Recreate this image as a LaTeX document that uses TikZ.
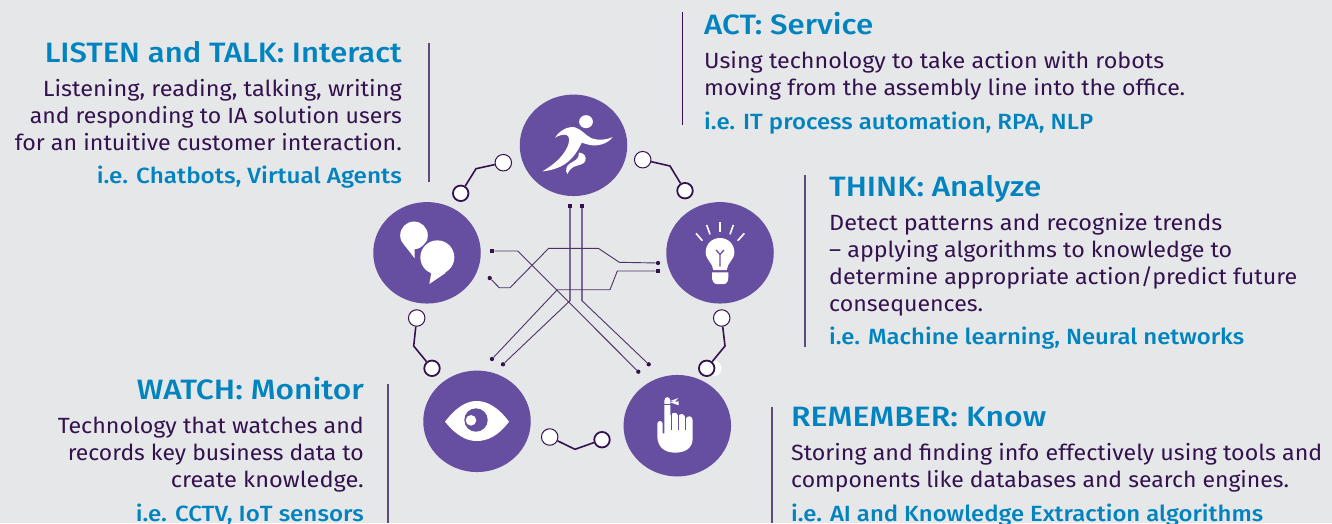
\documentclass[tikz,border=0pt]{standalone}
\usepackage{graphicx}
\usepackage{fontspec}
\usetikzlibrary{shapes.geometric}
\setmainfont{Fira Sans}
\newfontfamily\medfont{Fira Sans Medium}
\definecolor{bgc}{HTML}{E6E7E8}
\definecolor{purp}{HTML}{664EA0}
\definecolor{darkp}{HTML}{33124F}
\definecolor{midp}{HTML}{5F4A80}
\definecolor{bluec}{HTML}{0083BE}
\newcommand{\fitw}[2]{\resizebox{#1pt}{\height}{#2}}
\tikzset{
  titleR/.style={anchor=base east,inner sep=0pt,text=bluec,font=\medfont\fontsize{28}{30}\selectfont},
  titleL/.style={anchor=base west,inner sep=0pt,text=bluec,font=\medfont\fontsize{28}{30}\selectfont},
  bodyR/.style={anchor=base east,inner sep=0pt,text=darkp,font=\fontsize{22}{24}\selectfont},
  bodyL/.style={anchor=base west,inner sep=0pt,text=darkp,font=\fontsize{22}{24}\selectfont},
  exR/.style={anchor=base east,inner sep=0pt,text=bluec,font=\medfont\fontsize{22}{24}\selectfont},
  exL/.style={anchor=base west,inner sep=0pt,text=bluec,font=\medfont\fontsize{22}{24}\selectfont},
  disc/.style={ellipse,fill=purp,minimum width=107.5pt,minimum height=101.5pt,inner sep=0pt},
  knobthin/.style={circle,draw=darkp,fill=white,line width=1pt,minimum size=16.5pt,inner sep=0pt},
  knobthick/.style={circle,draw=darkp,fill=white,line width=1.8pt,minimum size=15.5pt,inner sep=0pt},
  linkline/.style={draw=darkp,line width=1.6pt},
  rulep/.style={draw=midp,line width=1.2pt},
  rulek/.style={draw=darkp,line width=1pt},
  trace/.style={draw=darkp!85!bgc,line width=0.9pt,line join=round},
  vtrace/.style={draw=midp!80!bgc,line width=1.5pt,line join=round},
  sqt/.style={rectangle,fill=darkp,minimum size=4.3pt,inner sep=0pt},
  dott/.style={circle,fill=darkp,minimum size=4.3pt,inner sep=0pt},
  ray/.style={draw=white,line width=1.6pt},
}
\begin{document}
\begin{tikzpicture}[x=1pt,y=-1pt]
\useasboundingbox (0,0) rectangle (1332,523);
\fill[bgc] (0,0) rectangle (1332,523);

% rules
\coordinate (r1a) at (429,43); \coordinate (r1b) at (429,182);
\coordinate (r2a) at (682,12); \coordinate (r2b) at (682,125);
\coordinate (r3a) at (805,175); \coordinate (r3b) at (805,347);
\coordinate (r4a) at (388,384); \coordinate (r4b) at (388,523);
\coordinate (r5a) at (772,407); \coordinate (r5b) at (772,523);
\draw[rulep] (r1a) -- (r1b);
\draw[rulek] (r2a) -- (r2b);
\draw[rulep] (r3a) -- (r3b);
\draw[rulep] (r4a) -- (r4b);
\draw[rulep] (r5a) -- (r5b);

% discs
\node[disc] (dtop) at (573.5,145.3) {};
\node[disc] (dleft) at (427,252.8) {};
\node[disc] (dright) at (720,252.8) {};
\node[disc] (deye) at (477,421.3) {};
\node[disc] (dhand) at (677.3,425.7) {};

% connectors between discs
\fill[white] (713.5,368.3) circle (8pt);
\node[knobthin] (k1a) at (503.3,162.7) {};
\node[knobthick] (k1b) at (460.7,193.3) {};
\coordinate (k1m) at (476,168.7);
\draw[linkline] (k1a) -- (k1m) -- (k1b);
\node[knobthin] (k2a) at (642.7,159.7) {};
\node[knobthick] (k2b) at (685,190.7) {};
\coordinate (k2m) at (670,166);
\draw[linkline] (k2a) -- (k2m) -- (k2b);
\node[knobthin] (k3a) at (721.7,318) {};
\node[knobthick] (k3b) at (706.7,368.3) {};
\coordinate (k3m) at (725,346);
\draw[linkline] (k3a) -- (k3m) -- (k3b);
\node[knobthin] (k4a) at (416.7,318) {};
\node[knobthick] (k4b) at (432,368.3) {};
\coordinate (k4m) at (413.7,346);
\draw[linkline] (k4a) -- (k4m) -- (k4b);
\node[knobthin] (k5a) at (549.7,437) {};
\node[knobthick] (k5b) at (602,439.7) {};
\coordinate (k5m) at (575,449.3);
\draw[linkline] (k5a) -- (k5m) -- (k5b);

% circuit traces
\node[sqt] (ta) at (570,206) {};
\node[sqt] (tb) at (582,206) {};
\node[sqt] (tc) at (492,251) {};
\node[dott] (td) at (492,359) {};
\node[dott] (te) at (489.7,278) {};
\node[dott] (tf) at (503,364.3) {};
\node[dott] (tg) at (648.7,364.3) {};
\node[dott] (th) at (638.3,371.7) {};
\node[sqt] (ti) at (658,271) {};
\node[dott] (tj) at (658,263) {};
\coordinate (pa) at (570,300.7);
\coordinate (pb) at (582,300.7);
\coordinate (pc) at (517.7,251);
\coordinate (pd1) at (557.3,289.7);
\coordinate (pd2) at (610,289.7);
\coordinate (pd3) at (617.3,271);
\coordinate (pe1) at (499.3,287.7);
\coordinate (pe2) at (510,287.7);
\coordinate (pe3) at (548.7,248.3);
\coordinate (pe4) at (598.3,248.3);
\coordinate (pe5) at (619.3,262.3);
\draw[vtrace] (ta) -- (pa);
\draw[vtrace] (tb) -- (pb);
\draw[trace] (pa) -- (tf);
\draw[trace] (pb) -- (tg);
\draw[trace] (tc) -- (pc) -- (th);
\draw[trace] (td) -- (pd1) -- (pd2) -- (pd3) -- (ti);
\draw[trace] (te) -- (pe1) -- (pe2) -- (pe3) -- (pe4) -- (pe5) -- (tj);

% runner
\begin{scope}[shift={(510,90)},x=0.33333pt,y=-0.33333pt]
\fill[white] (228,95) ellipse (6.9pt and 6.5pt);
\fill[white] (135,143) .. controls (150,120) and (175,108) .. (195,112) .. controls (215,118) and (225,135) .. (245,145) .. controls (265,152) and (290,150) .. (308,141) .. controls (295,160) and (265,170) .. (240,165) .. controls (228,162) and (220,160) .. (215,158) .. controls (205,180) and (190,205) .. (165,222) .. controls (145,235) and (120,242) .. (97,244) .. controls (125,228) and (155,205) .. (170,175) .. controls (180,155) and (180,140) .. (170,135) .. controls (160,132) and (147,136) .. (135,143) -- cycle;
\fill[white] (207,188) .. controls (222,188) and (230,200) .. (226,213) .. controls (222,225) and (200,225) .. (188,232) .. controls (180,238) and (175,245) .. (172,252) .. controls (165,242) and (168,228) .. (180,220) .. controls (192,213) and (208,208) .. (207,188) -- cycle;
\end{scope}

% speech bubbles
\begin{scope}[shift={(370,200)},x=0.33333pt,y=-0.33333pt]
\fill[white] (132,106) circle (13.8pt);
\fill[white] (103,135) -- (134,175) -- (134,140) -- cycle;
\fill[purp] (202,172) circle (18.6pt);
\fill[white] (202,172) circle (17pt);
\fill[white] (185,212) -- (178,252) -- (228,218) -- cycle;
\end{scope}

% bulb
\begin{scope}[shift={(660,195)},x=0.33333pt,y=-0.33333pt]
\draw[ray] (108,115) -- (127,137);
\draw[ray] (140,90) -- (150,118);
\draw[ray] (180,82) -- (180,112);
\draw[ray] (220,90) -- (210,118);
\draw[ray] (253,115) -- (233,137);
\fill[white] (180,129) .. controls (155,129) and (137,148) .. (137,172) .. controls (137,195) and (158,203) .. (160,225) -- (200,225) .. controls (202,203) and (223,195) .. (223,172) .. controls (223,148) and (205,129) .. (180,129) -- cycle;
\draw[purp,line width=1.3pt] (180,215) -- (180,178) -- (168,165);
\draw[purp,line width=1.3pt] (180,178) -- (192,165);
\fill[white] (156,232) -- (205,232) -- (205,245) .. controls (205,255) and (202,267) .. (192,267) -- (170,267) .. controls (160,267) and (156,255) .. (156,245) -- cycle;
\end{scope}

% eye
\begin{scope}[shift={(400,290)},x=0.33333pt,y=-0.33333pt]
\fill[white] (135,395) .. controls (170,350) and (200,333) .. (230,333) .. controls (262,333) and (295,352) .. (327,395) .. controls (295,438) and (262,453) .. (230,453) .. controls (200,453) and (170,438) .. (135,395) -- cycle;
\fill[purp] (228,390) circle (11.7pt);
\fill[white] (213,391) circle (5.3pt);
\end{scope}

% hand
\begin{scope}[shift={(620,370)},x=0.33333pt,y=-0.33333pt]
\fill[white] (133,92) .. controls (133,78) and (151,78) .. (151,92) -- (151,135) -- (154,135) .. controls (156,126) and (171,126) .. (173,135) -- (176,138) .. controls (178,130) and (192,130) .. (195,140) -- (198,145) .. controls (202,136) and (217,136) .. (218,150) -- (218,205) .. controls (218,235) and (195,248) .. (165,248) .. controls (135,248) and (113,232) .. (112,200) -- (112,160) .. controls (115,150) and (126,152) .. (128,160) -- (128,190) -- (133,190) -- cycle;
\draw[purp,line width=0.9pt] (130,103) -- (153,103);
\draw[purp,line width=0.7pt] (153,130) -- (153,180);
\draw[purp,line width=0.7pt] (174.5,135) -- (174.5,180);
\draw[purp,line width=0.7pt] (196.5,140) -- (196.5,180);
\fill[white] (151,93) -- (175,84) -- (164,96) -- cycle;
\fill[white] (151,97) -- (176,94) -- (176,106) -- cycle;
\end{scope}

% LISTEN
\node[titleR] (l0) at (402,62) {\fitw{357}{LISTEN and TALK: Interact}};
\node[bodyR] (l1) at (402,96) {\fitw{359}{Listening, reading, talking, writing}};
\node[bodyR] (l2) at (402,123) {\fitw{372}{and responding to IA solution users}};
\node[bodyR] (l3) at (402,150) {\fitw{387}{for an intuitive customer interaction.}};
\node[exR] (l4) at (402,183) {\fitw{305}{i.e. Chatbots, Virtual Agents}};
% ACT
\node[titleL] (a0) at (704,34) {\fitw{169}{ACT: Service}};
\node[bodyL] (a1) at (704,68) {\fitw{460}{Using technology to take action with robots}};
\node[bodyL] (a2) at (704,95) {\fitw{481}{moving from the assembly line into the office.}};
\node[exL] (a3) at (704,129) {\fitw{389}{i.e. IT process automation, RPA, NLP}};
% THINK
\node[titleL] (t0) at (829,196) {\fitw{212}{THINK: Analyze}};
\node[bodyL] (t1) at (829,230) {\fitw{393}{Detect patterns and recognize trends}};
\node[bodyL] (t2) at (829,257) {\fitw{403}{– applying algorithms to knowledge to}};
\node[bodyL] (t3) at (829,284) {\fitw{468}{determine appropriate action/predict future}};
\node[bodyL] (t4) at (829,311) {\fitw{154}{consequences.}};
\node[exL] (t5) at (829,344) {\fitw{415}{i.e. Machine learning, Neural networks}};
% WATCH
\node[titleR] (w0) at (364,399) {\fitw{227}{WATCH: Monitor}};
\node[bodyR] (w1) at (364,433) {\fitw{306}{Technology that watches and}};
\node[bodyR] (w2) at (364,460) {\fitw{296}{records key business data to}};
\node[bodyR] (w3) at (364,487) {\fitw{193}{create knowledge.}};
\node[exR] (w4) at (364,521) {\fitw{228}{i.e. CCTV, IoT sensors}};
% REMEMBER
\node[titleL] (m0) at (791,426) {\fitw{255}{REMEMBER: Know}};
\node[bodyL] (m1) at (791,460) {\fitw{531}{Storing and finding info effectively using tools and}};
\node[bodyL] (m2) at (791,487) {\fitw{498}{components like databases and search engines.}};
\node[exL] (m3) at (791,521) {\fitw{472}{i.e. AI and Knowledge Extraction algorithms}};
\end{tikzpicture}
\end{document}
